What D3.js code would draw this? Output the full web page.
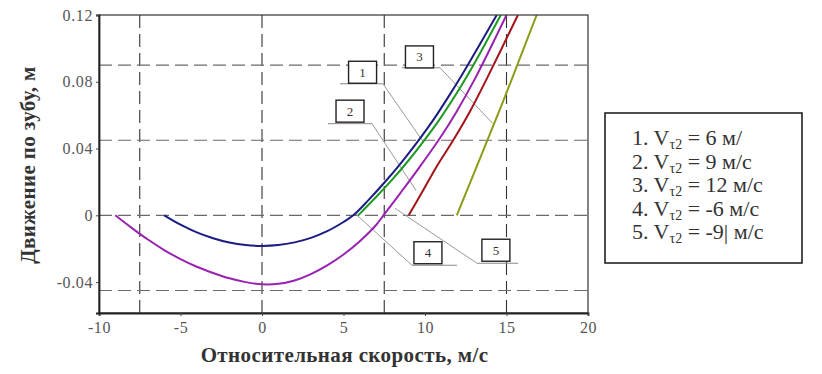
<!DOCTYPE html>
<html>
<head>
<meta charset="utf-8">
<script src="https://cdn.jsdelivr.net/npm/d3@7"></script>
<style>
  body { margin: 0; background: #fff; }
  svg { display: block; overflow: visible; }
  svg text { font-family: "Liberation Serif", "DejaVu Serif", serif; }
</style>
</head>
<body>
<svg id="chart" width="822" height="374" viewBox="0 0 822 374"></svg>
<script>
// ---- data ----
const xTicks = [-10, -5, 0, 5, 10, 15, 20];
const yTicks = [-0.04, 0, 0.04, 0.08, 0.12];
const yTickLabels = ["-0.04", "0", "0.04", "0.08", "0.12"];
const gridX = [-7.5, 0, 7.5, 15];
const gridY = [-0.045, 0, 0.045, 0.09];

// 1. Vτ2 = 6
const speed1 = [5.9, 7, 8, 9, 10, 11, 12, 13, 14.65];
const move1 = [0, 0.011, 0.0215, 0.033, 0.0455, 0.059, 0.074, 0.0905, 0.12];
// 2. Vτ2 = 9
const speed2 = [9, 9.8, 10.7, 11.7, 12.8, 13.9, 15.7];
const move2 = [0, 0.0135, 0.029, 0.0445, 0.063, 0.084, 0.12];
// 3. Vτ2 = 12
const speed3 = [11.95, 14.7, 15.7, 16.85];
const move3 = [0, 0.066, 0.091, 0.12];
// 4. Vτ2 = -6
const speed4 = [-6, -5, -4, -3, -2, -1, 0, 1, 2, 3, 4, 5, 5.6, 6.5, 7.5, 8.5, 9.5, 10.5, 11.5, 12.5, 14.4];
const move4 = [0, -0.0056, -0.0102, -0.0137, -0.0163, -0.0178, -0.0183, -0.0178, -0.0162, -0.0135, -0.0095, -0.004, 0, 0.0088, 0.0195, 0.031, 0.0435, 0.057, 0.072, 0.088, 0.12];
// 5. Vτ2 = -9
const speed5 = [-9, -8, -7, -6, -5, -4, -3, -2, -1, 0, 1, 2, 3, 4, 5, 6, 7, 7.45, 8.5, 9.6, 10.9, 11.9, 13.1, 15];
const move5 = [0, -0.0075, -0.0145, -0.0208, -0.0262, -0.0308, -0.0345, -0.0377, -0.04, -0.0413, -0.041, -0.039, -0.0352, -0.03, -0.0235, -0.0155, -0.0058, 0, 0.0135, 0.028, 0.046, 0.0615, 0.0825, 0.12];

const seriesColors = ["#1e9a22", "#a3141a", "#8d9c18", "#1c1c82", "#9a22b0"];

const legendNums = ["1.", "2.", "3.", "4.", "5."];
const legendValues = ["6 м/", "9 м/с", "12 м/с", "-6 м/с", "-9| м/с"];

// callouts: box centre, underline ends, leader end (data units)
const calloutLabels = ["1", "2", "3", "4", "5"];
const calloutBox = [[6.17, 0.0857], [5.4, 0.0624], [9.66, 0.0949], [10.18, -0.0224], [14.35, -0.0209]];
const calloutLine = [[4.79, 7.42, 0.0788], [4.05, 6.75, 0.0549], [8.59, 10.92, 0.0884], [9.2, 11.96, -0.0299], [13.19, 15.71, -0.0287]];
const calloutTarget = [[9.88, 0.0442], [9.45, 0.0149], [14.17, 0.0549], [5.7, 0.0012], [8.16, 0.0042]];
const calloutFromLeft = [false, false, false, true, true];

// ---- drawing ----
const svg = d3.select("#chart");
const width = 822, height = 374;
const margin = { top: 15, right: 234, bottom: 61, left: 99 };
const innerWidth = width - margin.left - margin.right;
const innerHeight = height - margin.top - margin.bottom;
const serif = "Liberation Serif, DejaVu Serif, serif";

svg.append("rect").attr("width", width).attr("height", height).attr("fill", "#fff");

const x = d3.scaleLinear().domain([-10, 20]).range([0, innerWidth]);
const y = d3.scaleLinear().domain([-0.0585, 0.12]).range([innerHeight, 0]);

const g = svg.append("g").attr("transform", `translate(${margin.left},${margin.top})`);

g.append("clipPath").attr("id", "plotClip")
    .append("rect").attr("width", innerWidth).attr("height", innerHeight);

// grid
g.selectAll(".gx").data(gridX).join("line")
    .attr("x1", d => x(d)).attr("x2", d => x(d))
    .attr("y1", 0).attr("y2", innerHeight)
    .attr("stroke", "#333").attr("stroke-width", 1.1)
    .attr("stroke-dasharray", "13,6");
g.selectAll(".gy").data(gridY).join("line")
    .attr("x1", 0).attr("x2", innerWidth)
    .attr("y1", d => y(d)).attr("y2", d => y(d))
    .attr("stroke", "#6a6a6a").attr("stroke-width", 1.1)
    .attr("stroke-dasharray", "13,6");

// callouts
const calloutG = g.append("g");
calloutLabels.forEach((lab, i) => {
    const [bx, by] = calloutBox[i];
    const [ux1, ux2, uy] = calloutLine[i];
    const [tx, ty] = calloutTarget[i];
    const sx = calloutFromLeft[i] ? ux1 : ux2;
    calloutG.append("line")
        .attr("x1", x(ux1)).attr("x2", x(ux2)).attr("y1", y(uy)).attr("y2", y(uy))
        .attr("stroke", "#888").attr("stroke-width", 1);
    calloutG.append("line")
        .attr("x1", x(sx)).attr("y1", y(uy)).attr("x2", x(tx)).attr("y2", y(ty))
        .attr("stroke", "#999").attr("stroke-width", 1);
    calloutG.append("rect")
        .attr("x", x(bx) - 14).attr("y", y(by) - 11)
        .attr("width", 28).attr("height", 22)
        .attr("fill", "#fff").attr("stroke", "#222").attr("stroke-width", 1.4);
    calloutG.append("text")
        .attr("x", x(bx)).attr("y", y(by) + 4.5)
        .attr("text-anchor", "middle")
        .attr("font-family", serif).style("font-size", "13px").attr("fill", "#333")
        .text(lab);
});

// curves
const allSpeeds = [speed1, speed2, speed3, speed4, speed5];
const allMoves = [move1, move2, move3, move4, move5];
const line = d3.line().x(d => x(d[0])).y(d => y(d[1])).curve(d3.curveCatmullRom.alpha(0.5));
const curvesG = g.append("g").attr("clip-path", "url(#plotClip)");
allSpeeds.forEach((sp, i) => {
    curvesG.append("path")
        .datum(sp.map((v, j) => [v, allMoves[i][j]]))
        .attr("d", line)
        .attr("fill", "none")
        .attr("stroke", seriesColors[i])
        .attr("stroke-width", 2);
});

// frame
g.append("rect").attr("width", innerWidth).attr("height", innerHeight)
    .attr("fill", "none").attr("stroke", "#333").attr("stroke-width", 1.2);

// axes
const xAxis = g.append("g").attr("transform", `translate(0,${innerHeight})`)
    .call(d3.axisBottom(x).tickValues(xTicks).tickSize(3).tickPadding(6)
        .tickFormat(d => String(d)));
const yAxis = g.append("g")
    .call(d3.axisLeft(y).tickValues(yTicks).tickSize(3).tickPadding(3)
        .tickFormat((d, i) => yTickLabels[i]));
[xAxis, yAxis].forEach(a => {
    a.attr("font-family", serif);
    a.select(".domain").attr("stroke", "#222").attr("stroke-width", 1.8);
    a.selectAll(".tick line").attr("stroke", "#444");
    a.selectAll("text").attr("font-family", serif).style("font-size", "16px")
        .style("letter-spacing", "0.6px").attr("fill", "#555");
});

// axis titles
svg.append("text")
    .attr("x", margin.left + innerWidth / 2 + 1).attr("y", 362)
    .attr("text-anchor", "middle")
    .attr("font-family", serif).style("font-size", "21px").style("font-weight", "bold")
    .style("letter-spacing", "0.4px")
    .attr("fill", "#333")
    .text("Относительная скорость, м/с");
svg.append("text")
    .attr("transform", "translate(35,165) rotate(-90)")
    .attr("text-anchor", "middle")
    .attr("font-family", serif).style("font-size", "21px").style("font-weight", "bold")
    .style("letter-spacing", "0.4px")
    .attr("fill", "#333")
    .text("Движение по зубу, м");

// legend
const legend = svg.append("g");
legend.append("rect").attr("x", 605).attr("y", 113).attr("width", 197).attr("height", 150)
    .attr("fill", "#fff").attr("stroke", "#222").attr("stroke-width", 1.6);
legendNums.forEach((n, i) => {
    const t = legend.append("text")
        .attr("x", 632).attr("y", 145 + i * 23.5)
        .attr("font-family", serif).style("font-size", "22px").attr("fill", "#333");
    t.append("tspan").text(n + " V");
    t.append("tspan").attr("dy", 4).style("font-size", "14px").text("τ2");
    t.append("tspan").attr("dy", -4).text(" = " + legendValues[i]);
});
</script>
</body>
</html>
